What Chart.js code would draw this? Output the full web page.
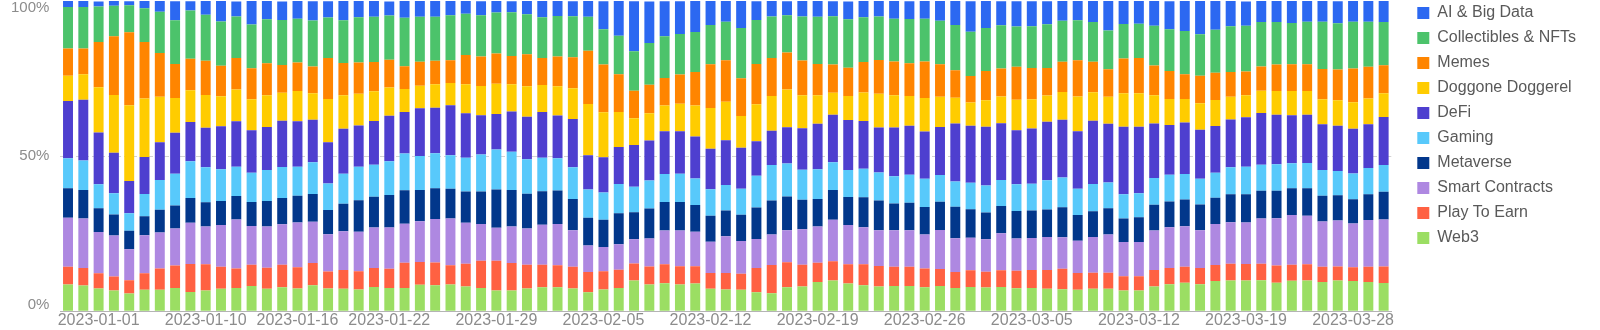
<!DOCTYPE html>
<html>
<head>
<meta charset="utf-8">
<title>Sector share</title>
<script src="https://cdn.jsdelivr.net/npm/chart.js@4.4.1/dist/chart.umd.min.js"></script>
<style>
  html, body { margin: 0; padding: 0; background: #fff; }
  #wrap { width: 1600px; height: 330px; position: relative; }
</style>
</head>
<body>
<div id="wrap"><canvas id="sectorChart"></canvas></div>
<script>
// one bar per day (a few days are missing in the source data)
const dates = [
  '2022-12-30', '2022-12-31', '2023-01-01', '2023-01-02', '2023-01-03', '2023-01-04', '2023-01-05', '2023-01-06', '2023-01-09', '2023-01-10',
  '2023-01-11', '2023-01-12', '2023-01-13', '2023-01-14', '2023-01-15', '2023-01-16', '2023-01-17', '2023-01-18', '2023-01-19', '2023-01-20',
  '2023-01-21', '2023-01-22', '2023-01-23', '2023-01-24', '2023-01-25', '2023-01-26', '2023-01-27', '2023-01-28', '2023-01-29', '2023-01-30',
  '2023-01-31', '2023-02-01', '2023-02-02', '2023-02-03', '2023-02-04', '2023-02-05', '2023-02-06', '2023-02-07', '2023-02-08', '2023-02-09',
  '2023-02-10', '2023-02-11', '2023-02-12', '2023-02-13', '2023-02-14', '2023-02-15', '2023-02-16', '2023-02-17', '2023-02-18', '2023-02-19',
  '2023-02-20', '2023-02-21', '2023-02-22', '2023-02-23', '2023-02-24', '2023-02-25', '2023-02-26', '2023-02-27', '2023-02-28', '2023-03-01',
  '2023-03-02', '2023-03-03', '2023-03-04', '2023-03-05', '2023-03-06', '2023-03-07', '2023-03-08', '2023-03-09', '2023-03-10', '2023-03-11',
  '2023-03-12', '2023-03-13', '2023-03-14', '2023-03-15', '2023-03-16', '2023-03-17', '2023-03-18', '2023-03-19', '2023-03-20', '2023-03-21',
  '2023-03-22', '2023-03-23', '2023-03-24', '2023-03-27', '2023-03-28', '2023-03-29', '2023-03-30'
];

// dates that get a label on the x axis
const shownDates = [
  '2023-01-01', '2023-01-10', '2023-01-16', '2023-01-22', '2023-01-29', '2023-02-05', '2023-02-12',
  '2023-02-19', '2023-02-26', '2023-03-05', '2023-03-12', '2023-03-19', '2023-03-28'
];

// share of each sector per day, in %
const web3 = [
  8.6, 8.3, 7.3, 6.7, 5.7, 6.9, 6.9, 7.5, 6.2, 6.7, 7.2, 7.5, 8.1, 7.2, 7.7, 7.3, 8.4, 7.3, 7.2, 7.0,
  7.8, 7.5, 7.5, 8.5, 8.4, 8.6, 8.0, 7.5, 6.7, 6.7, 7.3, 7.7, 7.7, 7.3, 6.1, 7.0, 7.5, 9.9, 8.6, 9.0,
  8.6, 8.9, 7.2, 7.0, 6.9, 6.1, 5.8, 7.7, 8.0, 9.4, 9.9, 8.9, 8.4, 8.0, 8.1, 8.1, 7.7, 8.1, 7.5, 7.8,
  7.6, 7.8, 7.4, 7.5, 7.2, 7.1, 6.9, 7.2, 7.2, 6.7, 6.7, 8.0, 8.7, 9.2, 8.7, 9.7, 9.9, 9.9, 10.0, 9.2,
  9.8, 9.9, 9.4, 9.9, 9.7, 9.4, 9.1
];
const playToEarn = [
  5.7, 5.6, 4.9, 4.5, 4.3, 5.3, 6.9, 7.2, 9.0, 8.4, 7.1, 6.3, 6.9, 6.8, 7.3, 6.9, 7.1, 5.5, 6.1, 5.9,
  6.1, 6.2, 8.1, 7.4, 7.3, 6.2, 7.3, 8.8, 9.6, 8.8, 7.7, 7.3, 7.1, 7.0, 6.5, 5.9, 5.9, 5.5, 5.8, 6.1,
  5.9, 5.6, 5.1, 5.3, 5.2, 7.8, 9.1, 8.1, 7.0, 6.2, 6.2, 6.2, 6.7, 6.6, 6.2, 6.2, 6.1, 5.5, 5.1, 5.4,
  5.1, 5.4, 5.6, 5.8, 6.1, 6.6, 5.4, 5.2, 5.2, 4.6, 4.6, 5.3, 5.2, 5.1, 5.2, 5.2, 5.4, 5.3, 5.3, 5.5,
  5.2, 5.2, 4.9, 4.5, 4.5, 4.9, 5.3
];
const smartContracts = [
  15.8, 16.0, 13.3, 13.2, 10.0, 12.3, 11.6, 12.0, 13.3, 12.2, 13.5, 15.8, 12.5, 13.3, 13.0, 14.4, 13.3, 12.0, 12.5, 12.7,
  13.1, 13.3, 12.6, 13.1, 14.0, 15.1, 13.2, 11.8, 10.6, 11.8, 11.7, 12.9, 13.3, 11.8, 8.6, 7.8, 8.2, 7.8, 9.0, 10.9,
  11.5, 11.1, 10.1, 11.9, 10.5, 9.4, 9.8, 10.3, 11.4, 11.7, 13.4, 12.7, 12.0, 11.5, 11.8, 11.8, 10.9, 12.6, 10.9, 10.5,
  10.5, 11.9, 10.4, 10.3, 10.6, 10.1, 10.4, 11.5, 12.3, 11.0, 11.0, 12.7, 13.2, 13.1, 12.2, 13.2, 13.4, 13.4, 14.6, 15.3,
  16.0, 15.7, 14.6, 14.8, 14.1, 15.1, 15.2
];
const metaverse = [
  9.5, 9.2, 7.7, 6.8, 5.9, 6.1, 7.3, 7.4, 8.0, 7.8, 7.7, 7.5, 7.7, 8.2, 8.5, 8.6, 9.0, 7.8, 8.8, 10.2,
  9.9, 10.5, 10.8, 10.1, 9.9, 9.6, 10.1, 10.5, 12.3, 11.8, 11.2, 10.8, 10.8, 10.1, 8.9, 8.8, 10.0, 8.7, 9.7, 9.2,
  9.2, 8.6, 8.4, 8.3, 8.5, 10.1, 11.0, 10.9, 9.5, 8.9, 9.6, 9.0, 9.6, 9.6, 8.6, 8.9, 8.9, 9.1, 10.2, 9.2,
  8.6, 8.8, 8.9, 8.9, 8.9, 9.7, 8.3, 8.3, 8.5, 7.6, 8.0, 8.3, 8.3, 8.6, 8.3, 8.5, 9.0, 9.1, 8.9, 8.8,
  8.6, 8.8, 8.3, 8.2, 7.8, 8.3, 8.9
];
const gaming = [
  9.7, 9.5, 7.7, 6.8, 5.7, 7.2, 9.6, 10.2, 11.8, 11.3, 10.3, 9.5, 9.4, 10.0, 10.0, 9.4, 10.2, 8.6, 9.7, 10.8,
  10.3, 10.8, 11.8, 10.9, 11.3, 10.8, 10.9, 11.9, 12.9, 12.3, 11.1, 10.8, 10.4, 10.2, 9.1, 8.8, 9.4, 8.2, 9.0, 9.0,
  9.1, 8.6, 8.5, 8.2, 8.4, 10.3, 11.4, 10.6, 9.7, 9.6, 8.9, 8.7, 9.2, 9.0, 8.8, 9.0, 9.1, 8.6, 8.1, 8.5,
  8.7, 8.4, 8.6, 8.6, 9.4, 9.6, 8.5, 8.8, 8.3, 7.8, 7.7, 8.6, 8.6, 8.2, 8.3, 8.0, 8.7, 8.9, 8.4, 8.6,
  8.1, 8.2, 8.3, 7.8, 8.3, 8.5, 8.6
];
const defi = [
  18.5, 19.6, 16.7, 13.1, 10.4, 11.9, 12.2, 13.2, 12.7, 12.7, 13.8, 14.6, 13.7, 13.9, 14.9, 14.6, 13.7, 13.3, 14.5, 13.3,
  14.1, 14.7, 13.4, 15.4, 14.7, 16.1, 14.3, 12.7, 11.5, 13.0, 13.7, 14.7, 13.8, 15.6, 11.1, 11.3, 11.9, 13.5, 12.9, 13.8,
  13.7, 13.5, 13.1, 14.4, 13.2, 11.1, 11.1, 11.7, 13.4, 14.6, 15.3, 16.1, 15.4, 14.5, 15.7, 15.8, 15.2, 15.5, 18.7, 18.4,
  19.0, 18.3, 17.4, 17.8, 18.9, 18.6, 18.5, 20.4, 18.9, 21.8, 21.5, 17.6, 16.0, 16.6, 15.8, 15.1, 15.4, 15.9, 16.7, 15.9,
  15.5, 15.5, 14.8, 14.6, 14.4, 14.1, 15.5
];
const doggoneDoggerel = [
  8.1, 8.2, 14.6, 18.6, 24.4, 18.9, 14.6, 11.2, 10.2, 10.6, 9.7, 10.3, 10.0, 10.2, 9.0, 9.8, 8.6, 13.9, 10.8, 10.2,
  9.6, 9.1, 7.4, 7.3, 7.6, 7.2, 9.4, 9.4, 9.7, 8.8, 9.8, 8.7, 9.4, 9.9, 16.5, 14.5, 11.3, 8.6, 8.8, 8.3,
  8.9, 10.0, 13.1, 12.4, 10.2, 11.9, 11.2, 12.2, 10.6, 9.2, 7.1, 7.8, 9.2, 10.9, 10.4, 9.6, 10.8, 9.7, 8.3, 7.5,
  8.5, 8.6, 9.9, 9.4, 8.4, 9.0, 11.2, 9.2, 8.7, 10.8, 10.8, 9.1, 8.4, 7.6, 8.5, 8.4, 7.3, 7.1, 7.2, 7.7,
  7.8, 7.7, 8.0, 8.2, 8.6, 8.3, 7.7
];
const memes = [
  8.8, 8.3, 14.6, 18.9, 23.5, 18.2, 14.1, 11.0, 10.2, 11.0, 9.8, 10.1, 10.0, 10.3, 9.0, 9.2, 8.6, 13.2, 10.4, 10.1,
  9.4, 9.0, 7.4, 7.7, 7.5, 7.3, 9.4, 9.5, 9.8, 9.1, 10.3, 8.7, 9.6, 10.0, 17.2, 15.4, 12.2, 8.9, 9.2, 8.9,
  9.4, 10.8, 14.1, 13.4, 12.2, 13.0, 12.2, 11.9, 11.2, 10.1, 9.1, 9.1, 9.8, 10.9, 10.9, 10.5, 11.8, 10.5, 8.9, 8.5,
  9.4, 9.0, 10.6, 10.1, 8.9, 9.7, 11.7, 9.8, 8.9, 11.2, 11.3, 9.6, 9.0, 8.0, 8.9, 8.8, 8.0, 7.7, 7.8, 8.5,
  8.6, 8.6, 9.8, 9.9, 10.8, 10.2, 9.0
];
const collectiblesNfts = [
  13.4, 13.4, 11.4, 9.9, 8.7, 10.9, 13.3, 14.1, 15.5, 14.9, 14.3, 13.4, 14.1, 14.2, 14.5, 14.1, 14.8, 13.1, 13.8, 14.6,
  14.6, 14.2, 15.6, 14.5, 14.2, 14.5, 13.3, 13.3, 13.2, 14.1, 12.9, 13.2, 13.1, 13.2, 10.9, 11.4, 12.4, 12.7, 13.5, 13.4,
  13.1, 12.9, 12.7, 12.4, 16.2, 14.2, 13.4, 12.0, 14.2, 15.2, 15.6, 15.6, 14.5, 14.0, 13.8, 14.3, 13.8, 14.0, 14.6, 14.3,
  13.9, 14.0, 13.0, 13.5, 14.1, 13.2, 12.9, 12.8, 12.5, 11.1, 11.1, 12.8, 13.5, 13.9, 13.4, 13.8, 14.8, 14.7, 14.3, 13.7,
  13.3, 13.7, 15.2, 14.9, 15.1, 14.5, 13.9
];
const aiBigData = [
  1.9, 1.9, 1.6, 1.5, 1.3, 2.4, 3.5, 6.1, 3.0, 4.4, 6.6, 4.8, 7.7, 5.9, 5.9, 5.7, 6.2, 5.2, 6.2, 5.2,
  5.1, 4.5, 5.4, 5.1, 5.1, 4.6, 4.2, 4.5, 3.8, 3.5, 4.3, 5.2, 4.8, 4.8, 5.2, 9.0, 11.3, 16.1, 13.3, 11.3,
  10.5, 10.0, 7.7, 6.8, 8.7, 6.0, 5.1, 4.5, 5.1, 5.1, 4.8, 5.7, 5.2, 5.2, 5.7, 5.7, 5.7, 6.5, 7.7, 9.8,
  8.7, 7.7, 8.1, 8.0, 7.4, 6.5, 6.2, 6.8, 9.6, 7.4, 7.4, 8.1, 9.0, 9.8, 10.8, 9.5, 8.1, 7.8, 6.8, 6.8,
  7.1, 6.8, 6.8, 7.1, 6.8, 6.8, 6.8
];

// bottom of the stack first
const sectors = [
  { name: 'Web3', values: web3, color: '#9bde63' },
  { name: 'Play To Earn', values: playToEarn, color: '#ff6142' },
  { name: 'Smart Contracts', values: smartContracts, color: '#ae88e1' },
  { name: 'Metaverse', values: metaverse, color: '#02378b' },
  { name: 'Gaming', values: gaming, color: '#58c9fb' },
  { name: 'DeFi', values: defi, color: '#4e3fcf' },
  { name: 'Doggone Doggerel', values: doggoneDoggerel, color: '#ffcc00' },
  { name: 'Memes', values: memes, color: '#ff8500' },
  { name: 'Collectibles & NFTs', values: collectiblesNfts, color: '#4cc36b' },
  { name: 'AI & Big Data', values: aiBigData, color: '#2c68f1' }
];

const yTicks = [0, 50, 100];

Chart.defaults.font.family = '"Liberation Sans", Arial, sans-serif';
Chart.defaults.color = '#8c8c8c';

const ctx = document.getElementById('sectorChart').getContext('2d');

const sectorChart = new Chart(ctx, {
  type: 'bar',
  data: {
    labels: dates,
    datasets: sectors.map(s => ({
      label: s.name,
      data: s.values,
      backgroundColor: s.color,
      borderWidth: 0,
      barPercentage: 0.65,
      categoryPercentage: 1.0
    }))
  },
  options: {
    responsive: true,
    maintainAspectRatio: false,
    animation: false,
    layout: { padding: { top: -4, right: 14, bottom: 0, left: 0 } },
    plugins: {
      tooltip: { enabled: false },
      legend: {
        position: 'right',
        align: 'start',
        reverse: true,
        labels: {
          boxWidth: 12,
          boxHeight: 12,
          padding: 9,
          color: '#595959',
          font: { size: 16 }
        }
      }
    },
    scales: {
      x: {
        stacked: true,
        grid: { display: false, drawTicks: false },
        border: { display: true, color: '#b4b4b4', width: 1 },
        ticks: {
          autoSkip: false,
          maxRotation: 0,
          minRotation: 0,
          padding: 1,
          font: { size: 16, lineHeight: 1.05 },
          callback: (value, index) => shownDates.includes(dates[index]) ? dates[index] : ''
        }
      },
      y: {
        stacked: true,
        min: 0,
        max: 100,
        afterBuildTicks: scale => { scale.ticks = yTicks.map(v => ({ value: v })); },
        afterFit: scale => { scale.paddingTop = 1; scale.paddingBottom = 0; },
        grid: {
          drawTicks: false,
          color: c => c.tick && c.tick.value === 50 ? '#d2d2d2' : 'rgba(0,0,0,0)'
        },
        border: { display: false, dash: [5, 3] },
        ticks: {
          padding: 11,
          font: { size: 15, lineHeight: 0.9 },
          // keep the end labels inside the plot, like the original
          callback: v => v === 100 ? ['', '100%'] : v === 0 ? ['0%', ''] : v + '%'
        }
      },
      gap: {
        position: 'right',
        display: true,
        grid: { display: false },
        border: { display: false },
        ticks: { display: false },
        afterFit: scale => { scale.width = 17; }
      }
    }
  }
});
</script>
</body>
</html>
